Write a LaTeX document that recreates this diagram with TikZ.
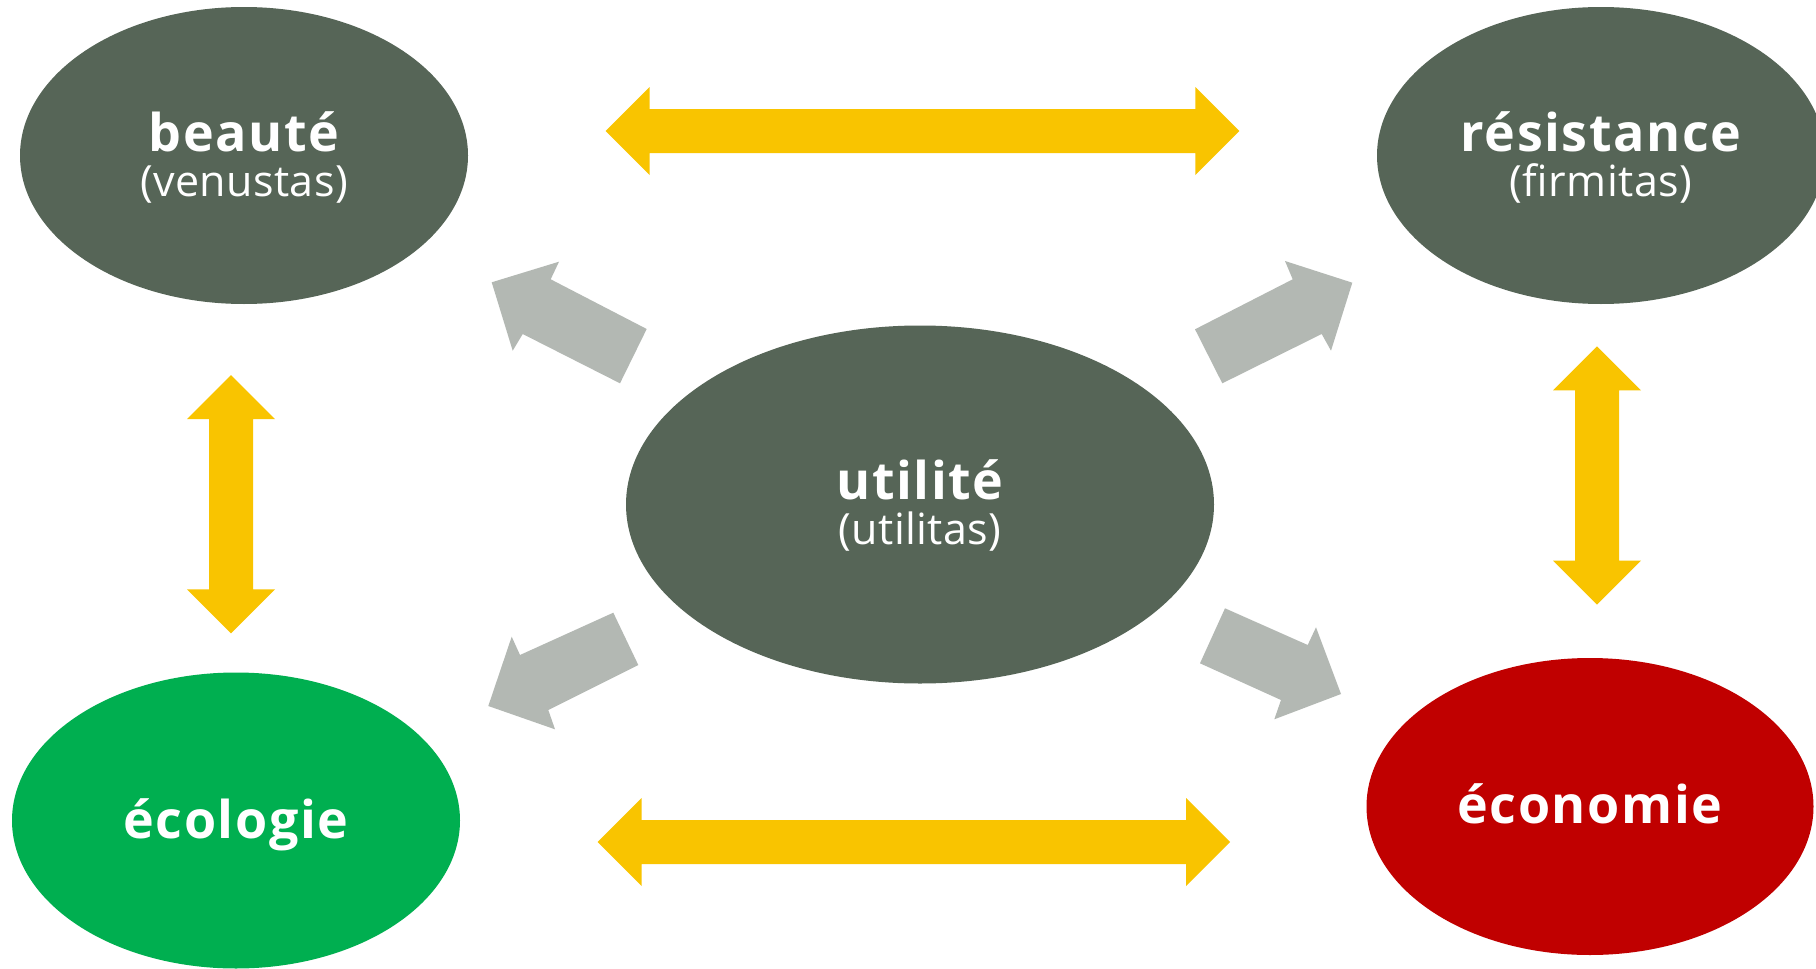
\documentclass[tikz,border=0pt]{standalone}
\usepackage{fontspec}
\setmainfont{Open Sans}
\usetikzlibrary{shapes.geometric}
\definecolor{sage}{HTML}{566557}
\definecolor{eco}{HTML}{00AF50}
\definecolor{econ}{HTML}{C00000}
\definecolor{gold}{HTML}{F9C400}
\definecolor{arrgray}{HTML}{B3B8B3}
\newcommand\hdblarrow[3]{% x1, x2, y
  \fill[gold] (#1,#3) -- ({#1+44},{#3-44}) -- ({#1+44},{#3-22}) -- ({#2-44},{#3-22})
    -- ({#2-44},{#3-44}) -- (#2,#3) -- ({#2-44},{#3+44}) -- ({#2-44},{#3+22})
    -- ({#1+44},{#3+22}) -- ({#1+44},{#3+44}) -- cycle;}
\newcommand\vdblarrow[3]{% x, y1, y2
  \fill[gold] (#1,#2) -- ({#1+44},{#2+44}) -- ({#1+22},{#2+44}) -- ({#1+22},{#3-44})
    -- ({#1+44},{#3-44}) -- (#1,#3) -- ({#1-44},{#3-44}) -- ({#1-22},{#3-44})
    -- ({#1-22},{#2+44}) -- ({#1-44},{#2+44}) -- cycle;}
\begin{document}
\begin{tikzpicture}[x=1pt,y=-1pt,
  blob/.style={ellipse, inner sep=0pt, draw=none},
  ttl/.style={text=white, font=\fontsize{52}{52}\selectfont\bfseries\addfontfeature{LetterSpace=3}, anchor=base, inner sep=0pt},
  subt/.style={text=white, font=\fontsize{43}{44}\selectfont\addfontfeature{LetterSpace=1}, anchor=base, inner sep=0pt},
  grayarrow/.style={fill=arrgray}]
\useasboundingbox (0,0) rectangle (1816,969);
\clip (0,0) rectangle (1816,969);
\fill[white] (0,0) rectangle (1816,969);
% ellipses
\node[blob, fill=sage, minimum width=448pt, minimum height=297pt] (beaute) at (244,155.5) {};
\node[blob, fill=sage, minimum width=448pt, minimum height=297pt] (resist) at (1601,155.5) {};
\node[blob, fill=sage, minimum width=588pt, minimum height=358pt] (util) at (920,504.5) {};
\node[blob, fill=eco, minimum width=448pt, minimum height=296pt] (ecol) at (236,820.5) {};
\node[blob, fill=econ, minimum width=447pt, minimum height=297pt] (econo) at (1590,806.5) {};
% texts
\node[ttl] (beauteT) at (244,151) {beauté};
\node[subt] (beauteS) at (244,196) {(venustas)};
\node[ttl] (resistT) at (1601,151) {résistance};
\node[subt] (resistS) at (1601,196) {(firmitas)};
\node[ttl] (utilT) at (920,499) {utilité};
\node[subt] (utilS) at (920,544) {(utilitas)};
\node[ttl] (ecolT) at (236,838) {écologie};
\node[ttl] (econoT) at (1590,823) {économie};
% yellow double arrows
\hdblarrow{605.7}{1239.3}{131}
\hdblarrow{597.6}{1230}{842}
\vdblarrow{231}{375}{633.3}
\vdblarrow{1597}{346.3}{604.6}
% gray arrows
\fill[grayarrow] (491.7,282.3) -- (559,261.7) -- (550.7,279.3) -- (646.7,329) -- (620,383.3) -- (522.7,334) -- (512.7,350.7) -- cycle;
\fill[grayarrow] (1352.3,282.7) -- (1285,261) -- (1292.7,279.3) -- (1195,329.3) -- (1222.3,383.3) -- (1321.7,334) -- (1331,350.7) -- cycle;
\fill[grayarrow] (488.3,706) -- (511.7,636.7) -- (520,655) -- (613.3,612.7) -- (638.3,665) -- (548.3,710) -- (555,729.3) -- cycle;
\fill[grayarrow] (1341,694) -- (1316,627.3) -- (1307.7,645) -- (1225,608.3) -- (1200,663.3) -- (1281,700) -- (1274.3,719.3) -- cycle;
\end{tikzpicture}
\end{document}
